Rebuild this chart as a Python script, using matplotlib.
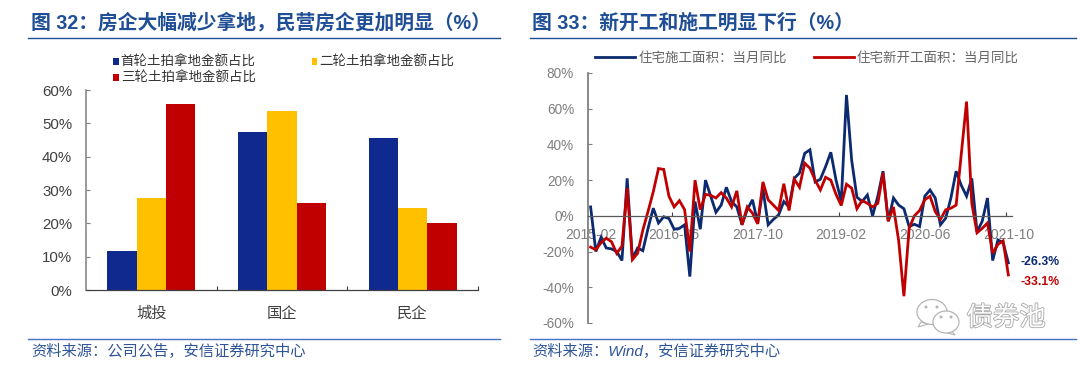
# plot.py
import matplotlib
matplotlib.use("Agg")

import matplotlib.pyplot as plt
import matplotlib.patheffects as pe
from matplotlib.patches import Ellipse, Polygon

CJK = ["Liberation Sans", "Noto Sans CJK SC"]
plt.rcParams["font.family"] = CJK

# 图32
bar_cats = ["城投", "国企", "民企"]
tier1 = [11.7, 47.3, 45.6]
tier2 = [27.5, 53.6, 24.7]
tier3 = [55.7, 26.0, 20.2]
bar_labels = ["首轮土拍拿地金额占比", "二轮土拍拿地金额占比", "三轮土拍拿地金额占比"]
bar_yticks = [0, 10, 20, 30, 40, 50, 60]

# 图33 (2015-02 ... 2021-10)
under_construction = [
    5, -20, -12, -18, -18.5, -20, -25, 21, -24, -18, -19.5, -7, 4.3, -4, -0.5, -1.5,
    -7.5, -7, -5, -34, 8, -7.5, 20, 11, 2, 6, 16, 8, 5, -5, 3.5, 9,
    -4, 15, -5, -2, 0.5, 8, 5, 21, 24, 35, 37, 19, 20.5, 27.6, 35.6, 20,
    8, 67.7, 31, 10.5, 8, 11.7, 0, 11, 25, -3, 10, 6, 4, -6, -4.7, -6,
    11, 14.5, 10, -5, -1.3, 10, 25, 17, 11, 21, -9, -3, 10, -25, -13.5, -15, -26.3,
]
new_starts = [
    -17.5, -19, -15, -12.5, -14.5, -21, -17, 15.5, -24.5, -21, -8, 2.5, 13.5, 26.5, 26, 11,
    5, 8.5, 3.5, -20, 20, 3.5, 12, 11.5, 10, 13, 10, 5, 14, -5, 5, 1.5,
    -4.5, 19, 9, 6, 3, 18, 3, 20.5, 16, 29.5, 26.7, 20, 14.5, 21.6, 20, 12,
    5.8, 17.7, 15.5, 4, 8.6, 7, 5, 7, 24, -3, 5, -14, -45, -7, 0, 3,
    9, 11, 2.4, -2, 3.4, 4.3, 6, 35, 64, 7, -9.5, -7, -4, -21, -16, -14, -33.1,
]
line_labels = ["住宅施工面积：当月同比", "住宅新开工面积：当月同比"]
line_yticks = [-60, -40, -20, 0, 20, 40, 60, 80]
date_ticks = ["2015-02", "2016-06", "2017-10", "2019-02", "2020-06", "2021-10"]

W, H = 1080, 366
TITLE_BLUE = "#1f4e96"
SRC_BLUE = "#2f5597"
RULE_BLUE = "#4472c4"
NAVY = "#0b2a6f"
RED = "#c00000"
GREY = "#7f7f7f"


def px_axes(fig, left, top, right, bottom):
    return fig.add_axes([left / W, 1 - bottom / H, (right - left) / W, (bottom - top) / H])


fig = plt.figure(figsize=(W / 100, H / 100), dpi=100)

# 标题、分隔线、来源、水印都画在这一层
bg = fig.add_axes([0, 0, 1, 1])
bg.set_xlim(0, W)
bg.set_ylim(H, 0)
bg.axis("off")

bg.text(31, 23, "图 32：房企大幅减少拿地，民营房企更加明显（%）", fontsize=14.25, fontweight="bold",
        color=TITLE_BLUE, va="center", ha="left")
bg.text(532, 23, "图 33：新开工和施工明显下行（%）", fontsize=14.25, fontweight="bold",
        color=TITLE_BLUE, va="center", ha="left")
bg.plot([28, 500], [37.5, 37.5], color=TITLE_BLUE, lw=1)
bg.plot([530, 1076], [37.5, 37.5], color=TITLE_BLUE, lw=1)
bg.plot([28, 500], [338.5, 338.5], color=RULE_BLUE, lw=1)
bg.plot([530, 1076], [338.5, 338.5], color=RULE_BLUE, lw=1)
bg.text(31, 351, "资料来源：公司公告，安信证券研究中心", fontsize=11, style="italic",
        color=SRC_BLUE, va="center", ha="left")
bg.text(532, 351, "资料来源：Wind，安信证券研究中心", fontsize=11, style="italic",
        color=SRC_BLUE, va="center", ha="left")

# 水印
mark = "#b4b4b4"
bg.add_patch(Polygon([[921, 322], [918, 327], [928, 324]], fc="white", ec=mark, lw=0.8))
bg.add_patch(Ellipse((932, 312), 30, 25, fc="white", ec=mark, lw=0.9))
bg.add_patch(Polygon([[951, 330], [955, 335], [945, 332]], fc="white", ec=mark, lw=0.8))
bg.add_patch(Ellipse((946, 322), 26, 22, fc="white", ec=mark, lw=0.9))
for ex, ey in [(926, 307), (937, 307), (941, 317), (951, 317)]:
    bg.add_patch(Ellipse((ex, ey), 3, 3, fc=mark, ec="none"))
bg.text(1006, 318, "债券池", fontsize=19, color="white", va="center", ha="center",
        path_effects=[pe.withStroke(linewidth=1.2, foreground="#a8a8a8")])

# ----- 图32 -----
ax1 = px_axes(fig, 86, 90, 478, 290)
ax1.patch.set_alpha(0)
bw = 0.224
pos = range(len(bar_cats))
ax1.bar([p - bw for p in pos], tier1, bw, color="#10298e", label=bar_labels[0])
ax1.bar(list(pos), tier2, bw, color="#ffc000", label=bar_labels[1])
ax1.bar([p + bw for p in pos], tier3, bw, color=RED, label=bar_labels[2])
ax1.set_xlim(-0.5, 2.5)
ax1.set_ylim(0, 60)
ax1.set_yticks(bar_yticks)
ax1.set_yticklabels([f"{v}%" for v in bar_yticks], fontsize=10.8, color="#404040")
ax1.set_xticks(list(pos))
ax1.set_xticklabels(bar_cats, fontsize=11, color="#404040")
ax1.set_xticks([0.5, 1.5, 2.5], minor=True)
ax1.tick_params(axis="x", which="major", length=0, pad=12)
ax1.tick_params(axis="x", which="minor", direction="in", length=3, width=0.8, color="#404040")
ax1.tick_params(axis="y", direction="in", length=3, width=0.8, color=GREY, pad=10)
for side in ["top", "right"]:
    ax1.spines[side].set_visible(False)
ax1.spines["left"].set_color(GREY)
ax1.spines["left"].set_linewidth(1.1)
ax1.spines["bottom"].set_color("#404040")
ax1.spines["bottom"].set_linewidth(0.9)

h1, l1 = ax1.get_legend_handles_labels()
ax1.legend([h1[0], h1[2], h1[1]], [l1[0], l1[2], l1[1]], ncol=2, frameon=False, fontsize=9.7,
           loc="upper left", bbox_to_anchor=(113 / W, 1 - 56 / H), bbox_transform=fig.transFigure,
           borderpad=0, borderaxespad=0, handlelength=0.42, handleheight=0.42, handletextpad=0.15,
           columnspacing=4.15, labelspacing=0.22, labelcolor="#333333")

# ----- 图33 -----
ax2 = px_axes(fig, 588, 73, 1012, 323)
ax2.patch.set_alpha(0)
idx = list(range(len(under_construction)))
ax2.plot(idx, under_construction, color=NAVY, lw=2.0, label=line_labels[0], solid_joinstyle="miter")
ax2.plot(idx, new_starts, color=RED, lw=2.0, label=line_labels[1], solid_joinstyle="miter")
ax2.set_xlim(-0.5, 80.7)
ax2.set_ylim(-60, 80)
ax2.set_yticks(line_yticks)
ax2.set_yticklabels([f"{v}%" for v in line_yticks], fontsize=9.8)
ax2.set_xticks(idx[::16])
ax2.set_xticklabels(date_ticks, fontsize=10)
ax2.set_xticks([i - 0.5 for i in idx[16::16]], minor=True)
ax2.tick_params(axis="x", which="major", length=0, pad=9, labelcolor=GREY)
ax2.tick_params(axis="x", which="minor", direction="in", length=3, width=0.8, color="#404040")
ax2.tick_params(axis="y", direction="in", length=3, width=0.8, color=GREY, pad=10, labelcolor=GREY)
for side in ["top", "right"]:
    ax2.spines[side].set_visible(False)
ax2.spines["bottom"].set_position(("data", 0))
ax2.spines["bottom"].set_color("#595959")
ax2.spines["bottom"].set_linewidth(0.9)
ax2.spines["left"].set_color(GREY)
ax2.spines["left"].set_linewidth(1.3)

ax2.legend(ncol=2, frameon=False, fontsize=9.7, loc="upper left",
           bbox_to_anchor=(595 / W, 1 - 52 / H), bbox_transform=fig.transFigure,
           borderpad=0, borderaxespad=0, handlelength=3.0, handletextpad=0.2,
           columnspacing=2.0, labelcolor="#666666")

ax2.annotate(f"{under_construction[-1]}%", (idx[-1], under_construction[-1]), xytext=(12, 1),
             textcoords="offset pixels", fontsize=8.8, fontweight="bold", color=NAVY,
             va="center", annotation_clip=False)
ax2.annotate(f"{new_starts[-1]}%", (idx[-1], new_starts[-1]), xytext=(12, -7),
             textcoords="offset pixels", fontsize=8.8, fontweight="bold", color=RED,
             va="center", annotation_clip=False)

fig.savefig("out.png", dpi=100)
